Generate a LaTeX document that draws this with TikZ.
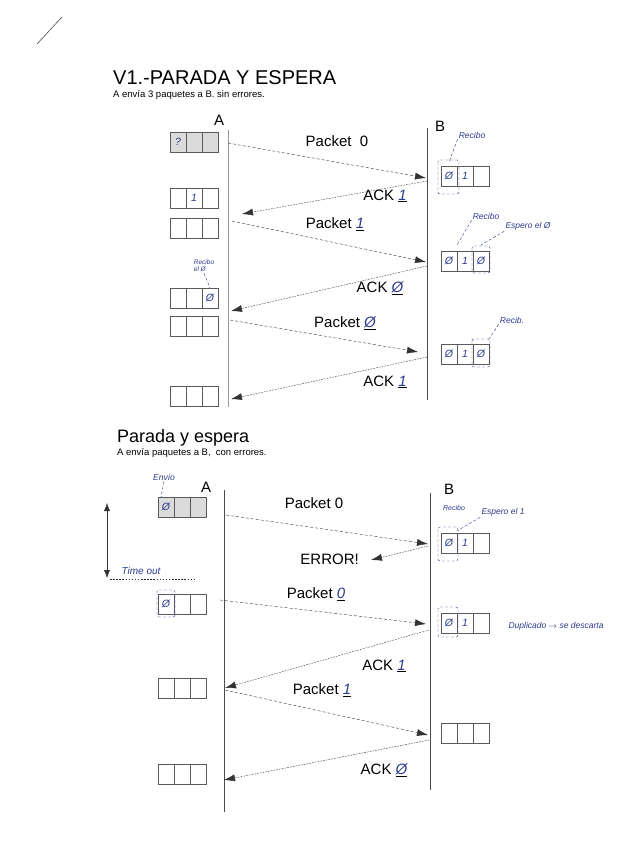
\documentclass[tikz,border=0pt]{standalone}
\usepackage{fontspec}
\setmainfont{Liberation Sans}
\usetikzlibrary{arrows.meta,positioning}
\definecolor{ink}{HTML}{2B3A8C}
\definecolor{lineg}{HTML}{5A5A5A}
\tikzset{
  cell/.style={draw=lineg,thin,minimum width=16pt,minimum height=20pt,inner sep=0pt,outer sep=0pt,font=\fontsize{10.5}{11}\itshape\selectfont,text=ink},
  shade/.style={fill=gray!28},
  msg/.style={-{Latex[length=11pt,width=7pt]},dash pattern=on 3pt off 2pt,draw=black!80,thin},
  ack/.style={msg,dash pattern=on 1.6pt off 1.2pt},
  lbl/.style={font=\fontsize{15}{17}\selectfont,inner sep=1pt},
  hand/.style={font=\fontsize{8.5}{9.5}\selectfont\itshape,text=ink,inner sep=1pt,align=left},
  hnote/.style={draw=ink,densely dashed,thin},
  wire/.style={draw=black!70,semithick},
  ring/.style={draw=ink,densely dashed,thin,rounded corners=2pt},
}
% three-cell buffer: [style] name, left-mid point, cell texts
\newcommand{\buf}[6][]{%
  \node[cell,#1,anchor=west] (#2a) at #3 {#4};
  \node[cell,#1,right=0pt of #2a] (#2b) {#5};
  \node[cell,#1,right=0pt of #2b] (#2c) {#6};}
\newcommand{\hd}[1]{\underline{\textcolor{ink}{\itshape #1}}}

\begin{document}
\begin{tikzpicture}[x=1pt,y=-1pt]
  \useasboundingbox (0,0) rectangle (616,848);
  \draw[black!70,semithick] (37,44) -- (62,17);

  % ---------- V1: sin errores ----------
  \node[anchor=west,font=\fontsize{20}{22}\selectfont,inner sep=0pt] (t1) at (113,78) {V1.-PARADA Y ESPERA};
  \node[anchor=west,font=\fontsize{9.5}{10}\selectfont,inner sep=0pt] (s1) at (113,95) {A envía 3 paquetes a B. sin errores.};
  \node[lbl] (A1) at (219,120) {A};
  \node[lbl] (B1) at (440,126) {B};
  \coordinate (A1t) at (228,130); \coordinate (A1b) at (228,407);
  \coordinate (B1t) at (427,128); \coordinate (B1b) at (427,400);
  \draw[black!40] (A1t) -- (A1b);
  \draw[wire] (B1t) -- (B1b);

  \buf[shade]{a11}{(170,142)}{?}{}{}
  \buf{a12}{(170,198)}{}{1}{}
  \buf{a13}{(170,228)}{}{}{}
  \buf{a14}{(170,298)}{}{}{Ø}
  \buf{a15}{(170,326)}{}{}{}
  \buf{a16}{(170,396)}{}{}{}

  \buf{b11}{(441,176)}{Ø}{1}{}
  \buf{b12}{(441,261)}{Ø}{1}{Ø}
  \buf{b13}{(441,354)}{Ø}{1}{Ø}
  \draw[ring] ([xshift=-3pt,yshift=6pt]b11a.north west) rectangle ([xshift=2pt,yshift=-8pt]b11a.south east);
  \draw[ring] ([xshift=-1pt,yshift=5pt]b12c.north west) rectangle ([xshift=1pt,yshift=-2pt]b12c.south east);
  \draw[ring] ([xshift=-1pt,yshift=5pt]b13c.north west) rectangle ([xshift=1pt,yshift=-3pt]b13c.south east);

  \coordinate (p1s) at (228,143); \coordinate (p1e) at (426,178);
  \coordinate (k1s) at (427,181); \coordinate (k1e) at (242,214);
  \coordinate (p2s) at (232,221); \coordinate (p2e) at (426,262);
  \coordinate (k2s) at (427,266); \coordinate (k2e) at (231,311);
  \coordinate (p3s) at (230,320); \coordinate (p3e) at (418,352);
  \coordinate (k3s) at (427,357); \coordinate (k3e) at (231,399);
  \draw[msg] (p1s) -- (p1e);
  \draw[ack] (k1s) -- (k1e);
  \draw[msg] (p2s) -- (p2e);
  \draw[ack] (k2s) -- (k2e);
  \draw[msg] (p3s) -- (p3e);
  \draw[ack] (k3s) -- (k3e);
  \node[lbl] (lp1) at (337,141) {Packet\ \ 0};
  \node[lbl] (lk1) at (385,196) {ACK \hd{1}};
  \node[lbl] (lp2) at (335,224) {Packet \hd{1}};
  \node[lbl] (lk2) at (380,288) {ACK \hd{Ø}};
  \node[lbl] (lp3) at (345,323) {Packet \hd{Ø}};
  \node[lbl] (lk3) at (385,382) {ACK \hd{1}};

  \node[hand] (n11) at (472,135) {Recibo};
  \draw[hnote] (n11.south west) -- ([yshift=4pt]b11a.north);
  \node[hand] (n12) at (486,216) {Recibo};
  \node[hand] (n13) at (528,226) {Espero el Ø};
  \draw[hnote] (n12.south west) -- ([yshift=6pt]b12a.north east);
  \draw[hnote] (n13.south west) -- ([yshift=6pt]b12c.north);
  \node[hand,font=\fontsize{6.5}{7}\selectfont\itshape] (n14) at (204,266) {Recibo\\ el Ø};
  \draw[hnote] (n14.south) -- (a14c.north);
  \node[hand] (n15) at (512,320) {Recib.};
  \draw[hnote] (n15.south west) -- ([yshift=5pt]b13c.north east);

  % ---------- V2: con errores ----------
  \node[anchor=west,font=\fontsize{18}{20}\selectfont,inner sep=0pt] (t2) at (117,438) {Parada y espera};
  \node[anchor=west,font=\fontsize{9.5}{10}\selectfont,inner sep=0pt] (s2) at (117,453) {A envía paquetes a B,\ \ con errores.};
  \node[lbl] (A2) at (206,487) {A};
  \node[lbl] (B2) at (449,489) {B};
  \coordinate (A2t) at (224,490); \coordinate (A2b) at (224,812);
  \coordinate (B2t) at (430,493); \coordinate (B2b) at (430,790);
  \draw[wire] (A2t) -- (A2b);
  \draw[wire] (B2t) -- (B2b);

  \buf[shade]{a21}{(158,507)}{Ø}{}{}
  \buf{a22}{(158,604)}{Ø}{}{}
  \buf{a23}{(158,688)}{}{}{}
  \buf{a24}{(158,774)}{}{}{}
  \buf{b21}{(441,543)}{Ø}{1}{}
  \buf{b22}{(441,623)}{Ø}{1}{}
  \buf{b23}{(441,733)}{}{}{}
  \draw[ring] ([xshift=-1pt,yshift=4pt]a22a.north west) rectangle ([xshift=1pt,yshift=-3pt]a22a.south east);
  \draw[ring] ([xshift=-3pt,yshift=6pt]b21a.north west) rectangle ([xshift=1pt,yshift=-8pt]b21a.south east);
  \draw[ring] ([xshift=-3pt,yshift=6pt]b22a.north west) rectangle ([xshift=1pt,yshift=-4pt]b22a.south east);

  % time out
  \coordinate (to1) at (107,503); \coordinate (to2) at (107,578);
  \draw[{Latex[length=8pt,width=6pt]}-{Latex[length=8pt,width=6pt]},black!80] (to1) -- (to2);
  \node[hand,font=\fontsize{10}{11}\selectfont\itshape] (tout) at (141,571) {Time out};
  \coordinate (d1) at (110,579); \coordinate (d2) at (196,579);
  \draw[black!85,thick,dash pattern=on 1.5pt off 1.6pt] (d1) -- (d2);
  \node[hand] (n21) at (164,477) {Envío};
  \draw[hnote] (n21.south) -- ([xshift=3pt]a21a.north west);

  \coordinate (q1s) at (226,515); \coordinate (q1e) at (428,544);
  \coordinate (ers) at (428,546); \coordinate (ere) at (371,560);
  \coordinate (q2s) at (220,600); \coordinate (q2e) at (426,624);
  \coordinate (r1s) at (429,630); \coordinate (r1e) at (225,688);
  \coordinate (q3s) at (225,690); \coordinate (q3e) at (428,735);
  \coordinate (r2s) at (429,740); \coordinate (r2e) at (224,780);
  \draw[msg] (q1s) -- (q1e);
  \draw[ack] (ers) -- (ere);
  \draw[msg] (q2s) -- (q2e);
  \draw[ack] (r1s) -- (r1e);
  \draw[msg] (q3s) -- (q3e);
  \draw[ack] (r2s) -- (r2e);
  \node[lbl] (lq1) at (314,503) {Packet 0};
  \node[lbl,anchor=east] (ler) at (360,559) {ERROR!};
  \node[lbl] (lq2) at (316,594) {Packet \hd{0}};
  \node[lbl] (lr1) at (384,666) {ACK \hd{1}};
  \node[lbl] (lq3) at (322,690) {Packet \hd{1}};
  \node[lbl] (lr2) at (384,770) {ACK \hd{Ø}};

  \node[hand,font=\fontsize{7}{8}\selectfont\itshape] (n22) at (454,508) {Recibo};
  \node[hand] (n23) at (503,512) {Espero el 1};
  \draw[hnote] (n23.south west) -- ([yshift=2pt]b21b.north west);
  \node[hand] (n24) at (556,626) {Duplicado $\rightarrow$ se descarta};
\end{tikzpicture}
\end{document}
